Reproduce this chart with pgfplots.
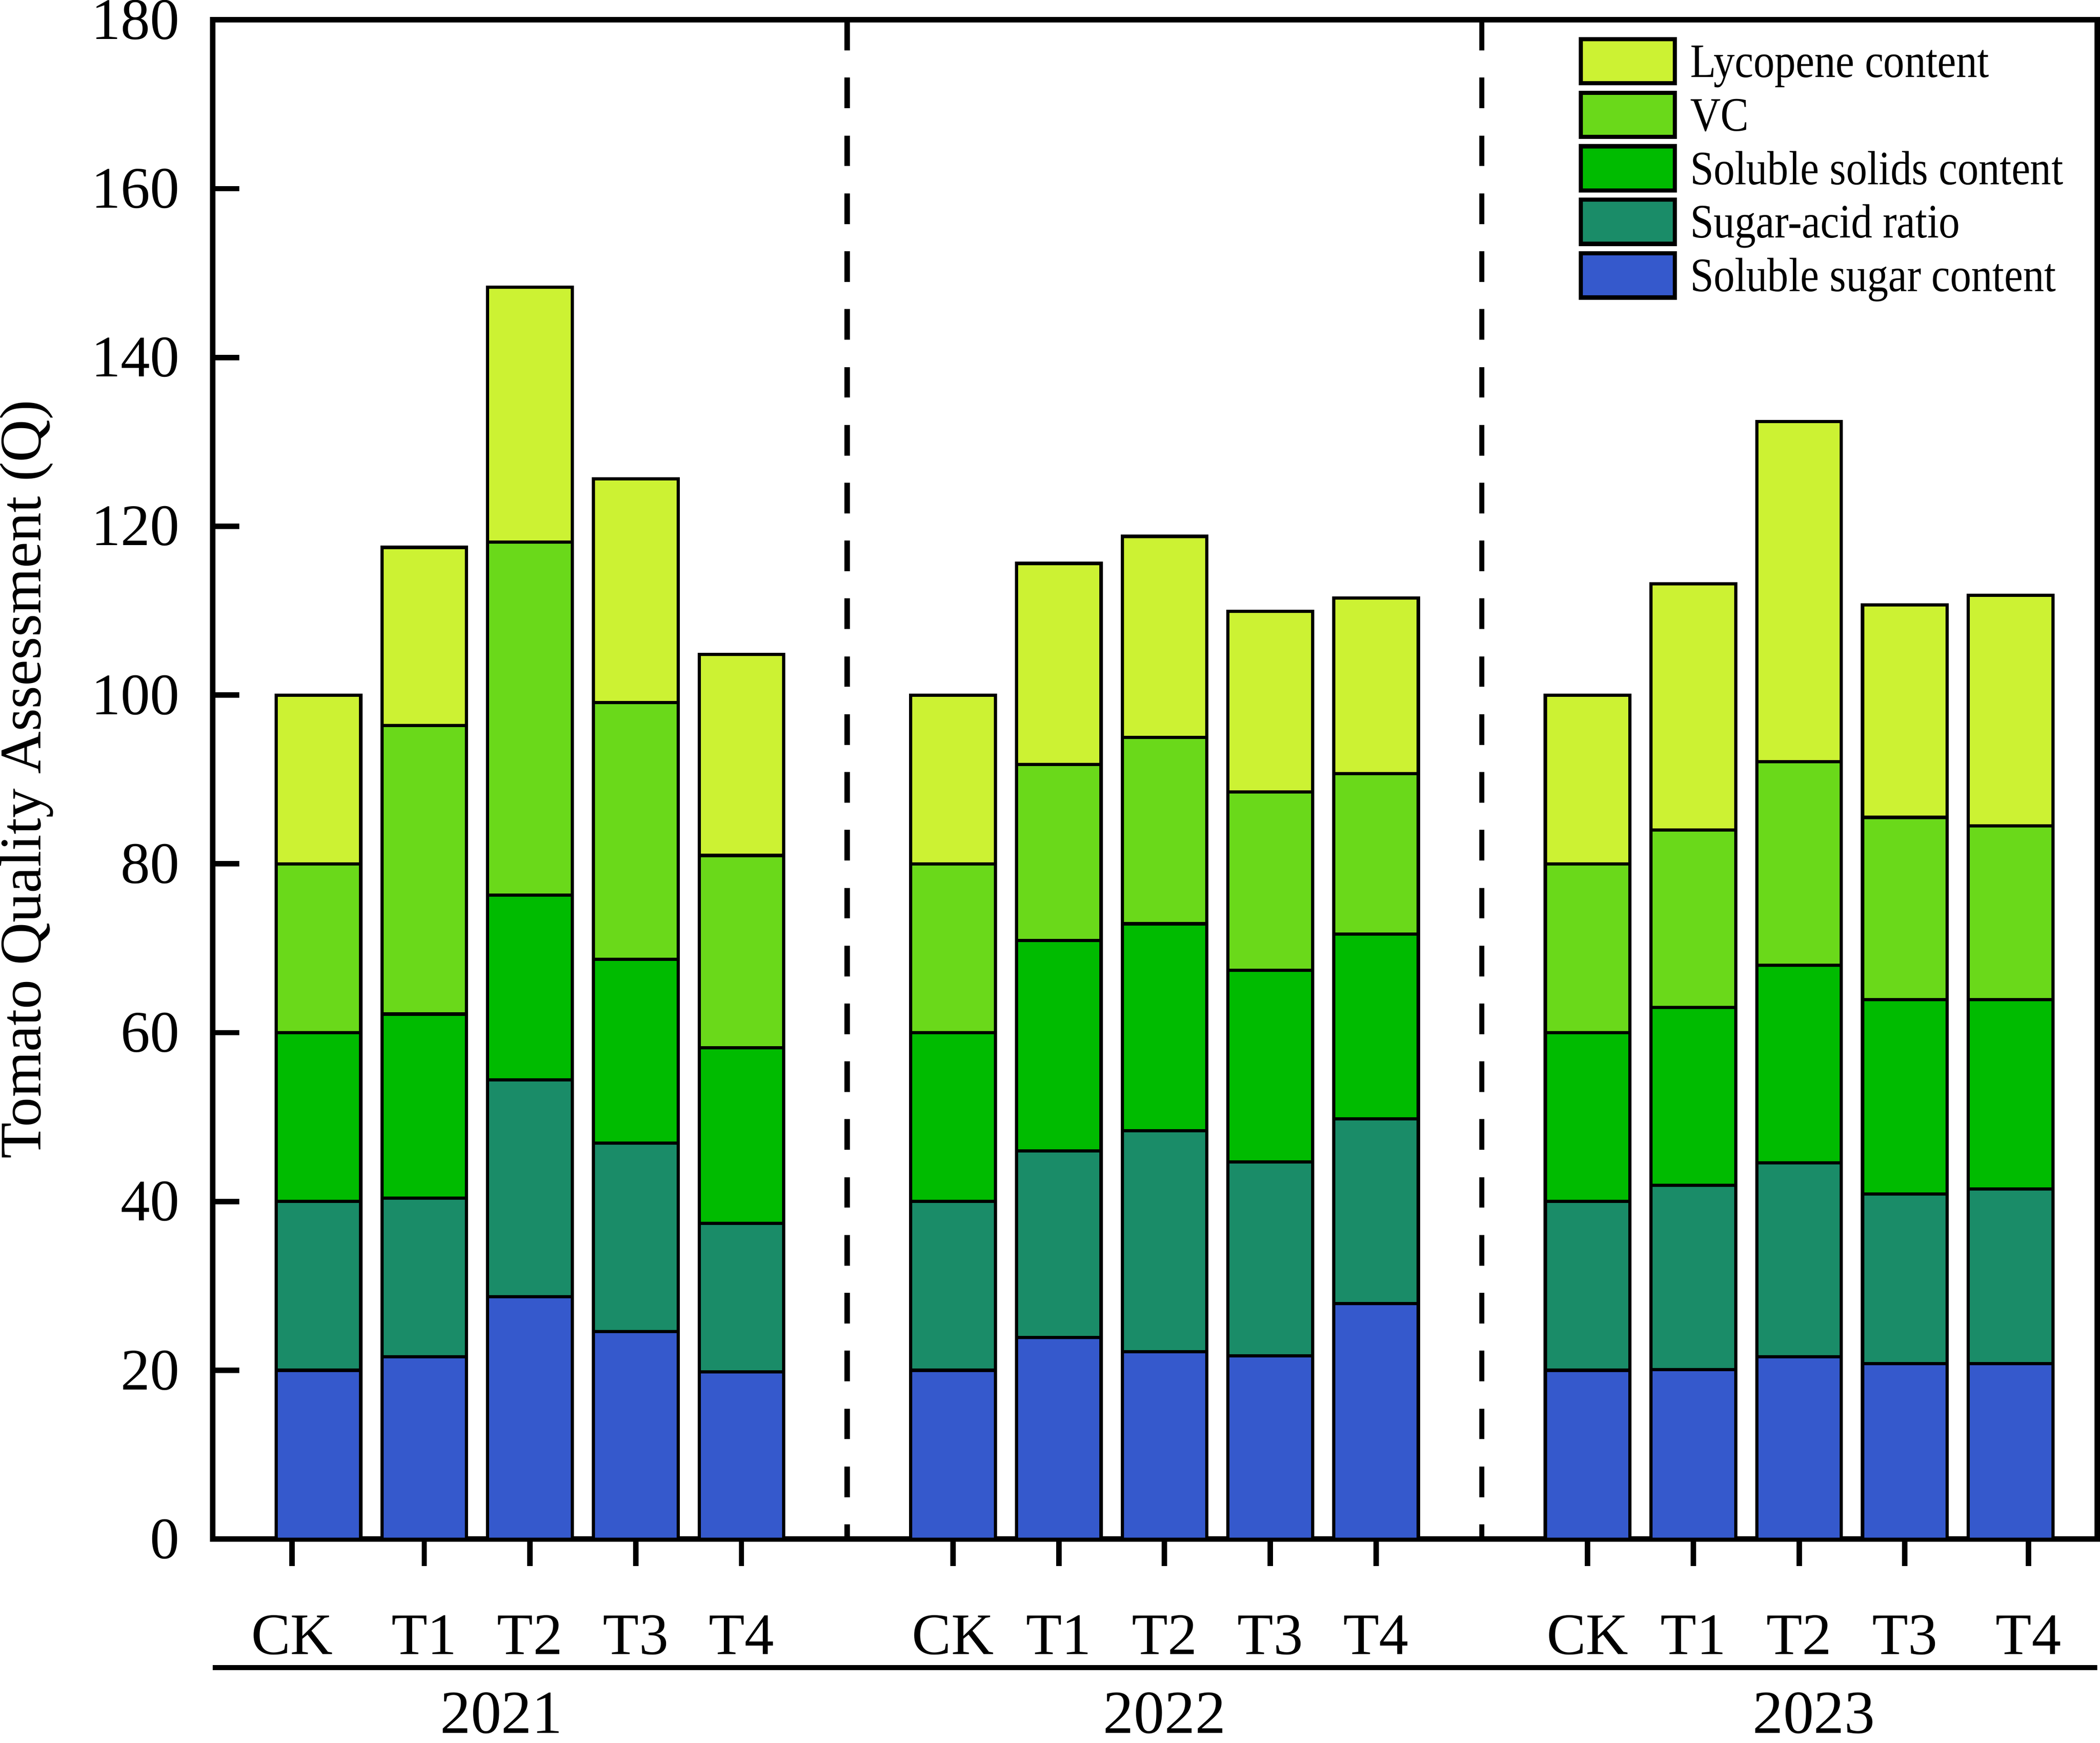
\documentclass[border=0pt]{standalone}
\usepackage{pgfplots}
\usepackage{pgfplotstable}
\pgfplotsset{compat=1.18}
\usepackage{fontspec}
\setmainfont{Liberation Serif}
\newfontfamily\legfont[FakeStretch=0.88]{Liberation Serif}

\definecolor{cSugar}{HTML}{3559CC}
\definecolor{cRatio}{HTML}{1A8C68}
\definecolor{cSolids}{HTML}{00BB00}
\definecolor{cVC}{HTML}{6AD91A}
\definecolor{cLyco}{HTML}{CCF233}

\pgfplotsset{boxlegend/.style={legend image code/.code={\draw[##1,line width=0.9pt] (0cm,-0.165cm) rectangle (0.7cm,0.165cm);}}}

% x: 1-5 = 2021, 7-11 = 2022, 13-17 = 2023 (CK,T1..T4)
\pgfplotstableread{
x  sugar ratio solids vc   lyco
1  20.0  20.0  20.0   20.0 20.0
2  21.6  18.8  21.8   34.2 21.1
3  28.7  25.7  21.9   41.8 30.2
4  24.6  22.3  21.8   30.4 26.5
5  19.8  17.6  20.8   22.8 23.8
7  20.0  20.0  20.0   20.0 20.0
8  23.9  22.1  24.9   20.9 23.8
9  22.2  26.2  24.5   22.1 23.8
10 21.7  23.0  22.7   21.1 21.4
11 27.9  21.9  21.9   19.0 20.8
13 20.0  20.0  20.0   20.0 20.0
14 20.1  21.8  21.1   21.0 29.2
15 21.6  23.0  23.4   24.1 40.3
16 20.8  20.1  23.0   21.6 25.2
17 20.8  20.7  22.4   20.6 27.3
}\quality

\begin{document}
\begin{tikzpicture}
\begin{axis}[
  scale only axis,
  width=14.08cm, height=11.35cm,
  ybar stacked, bar width=0.8,
  xmin=0, xmax=17.82, ymin=0, ymax=180,
  ytick={0,20,...,180},
  xtick={0.75,2,3,4,5,7,8,9,10,11,13,14,15,16,17.17},
  xticklabels={CK,T1,T2,T3,T4,CK,T1,T2,T3,T4,CK,T1,T2,T3,T4},
  xtick pos=bottom, ytick pos=left,
  tick align=inside,
  major tick length=0.2cm,
  x tick style={yshift=-0.2cm},
  every tick/.style={black, line width=1.15pt},
  axis line style={line width=1.15pt},
  /pgf/number format/assume math mode=true,
  tick label style={font=\fontsize{12.5}{15}\selectfont},
  xticklabel style={anchor=base, yshift=-0.86cm},
  yticklabel style={anchor=east, inner sep=0pt, xshift=-0.24cm},
  ylabel={Tomato Quality Assessment (Q)},
  ylabel style={font=\fontsize{12.5}{15}\selectfont, at={(axis description cs:-0.0987,0.5)}, anchor=center, inner sep=0pt},
  clip=false,
  reverse legend,
  legend style={at={(axis description cs:0.7244,0.991)}, anchor=north west,
    draw=none, fill=none, inner sep=0pt, row sep=0pt, column sep=0.1cm,
    font=\legfont\fontsize{10.2}{12}\selectfont,
    nodes={inner sep=0pt, text height=0.32cm, text depth=0.08cm}},
  legend cell align=left,
]
\addplot[fill=cSugar, draw=black, line width=0.7pt, boxlegend] table[x=x, y=sugar] {\quality};
\addplot[fill=cRatio, draw=black, line width=0.7pt, boxlegend] table[x=x, y=ratio] {\quality};
\addplot[fill=cSolids, draw=black, line width=0.7pt, boxlegend] table[x=x, y=solids] {\quality};
\addplot[fill=cVC, draw=black, line width=0.7pt, boxlegend] table[x=x, y=vc] {\quality};
\addplot[fill=cLyco, draw=black, line width=0.7pt, boxlegend] table[x=x, y=lyco] {\quality};
\legend{Soluble sugar content, Sugar-acid ratio, Soluble solids content, VC, Lycopene content}

\draw[line width=1.15pt, dash pattern=on 6.5pt off 5.8pt] (axis cs:6,180) -- (axis cs:6,0);
\draw[line width=1.15pt, dash pattern=on 6.5pt off 5.8pt] (axis cs:12,180) -- (axis cs:12,0);
\draw[line width=1.15pt] ([yshift=-0.96cm]rel axis cs:0,0) -- ([yshift=-0.96cm]rel axis cs:1,0);
\node[anchor=base, inner sep=0pt, text depth=0.07cm, font=\fontsize{13}{15}\selectfont] at ([yshift=-1.45cm]axis cs:2.73,0) {2021};
\node[anchor=base, inner sep=0pt, text depth=0.07cm, font=\fontsize{13}{15}\selectfont] at ([yshift=-1.45cm]axis cs:9,0) {2022};
\node[anchor=base, inner sep=0pt, text depth=0.07cm, font=\fontsize{13}{15}\selectfont] at ([yshift=-1.45cm]axis cs:15.14,0) {2023};
\end{axis}
\end{tikzpicture}
\end{document}
